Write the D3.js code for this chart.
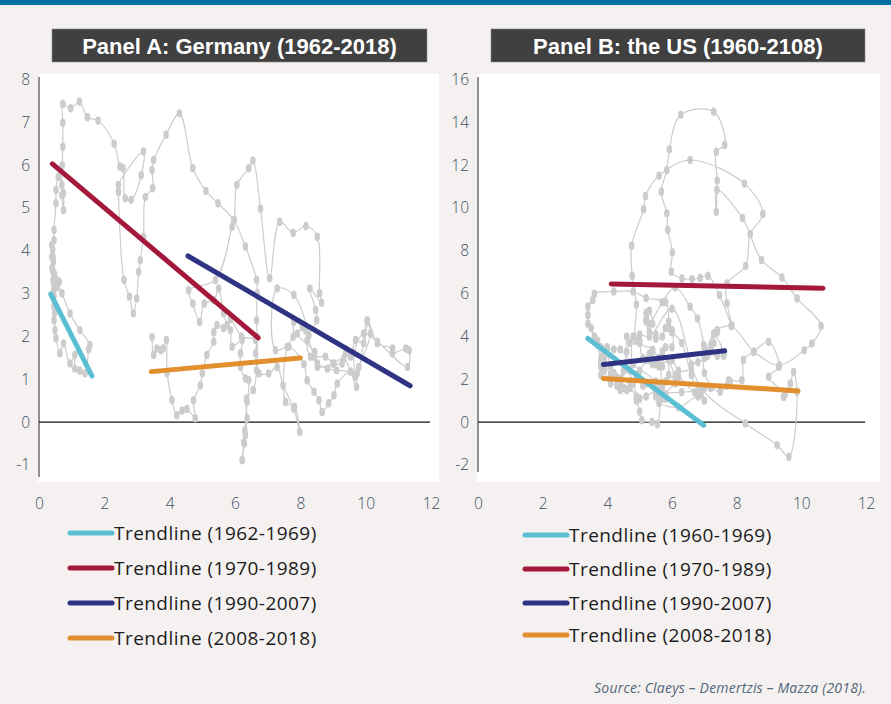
<!DOCTYPE html>
<html>
<head>
<meta charset="utf-8">
<script src="https://cdnjs.cloudflare.com/ajax/libs/d3/7.8.5/d3.min.js"></script>
<style>
  body { margin: 0; background: #f4f1f0; }
  svg { display: block; }
  .tick text { font-family: "Open Sans", Lato, sans-serif; font-weight: 300; font-size: 15.5px; fill: #3a5064; }
</style>
</head>
<body>
<svg id="chart" width="891" height="704"></svg>
<script>
// Germany: unemployment (x) vs inflation (y), connected in time order
const germany = [
  [0.42,3.55],[0.46,3.40],[0.54,3.32],[0.62,3.28],[0.55,3.15],[0.46,3.16],[0.46,2.95],[0.46,2.70],[0.46,2.38],[0.48,2.55],
  [0.44,2.90],[0.43,3.30],[0.40,3.60],[0.39,3.86],[0.39,4.14],[0.42,4.02],[0.46,4.25],[0.44,3.75],[0.48,3.45],[0.56,3.22],
  [0.70,3.01],[0.95,2.54],[1.25,2.15],[1.56,1.80],[1.52,1.70],[1.41,1.14],[1.25,1.20],[1.10,1.25],[1.10,1.57],[0.95,1.37],
  [0.75,1.84],[0.64,1.61],[0.52,1.96],[0.49,2.15],[0.47,2.70],[0.45,3.10],[0.43,3.50],[0.43,3.86],[0.46,4.49],[0.52,5.11],
  [0.52,5.42],[0.59,5.73],[0.70,5.54],[0.75,5.35],[0.75,4.95],[0.70,5.30],[0.71,6.00],[0.73,6.43],[0.73,6.99],[0.73,7.43],
  [0.97,7.33],[1.24,7.48],[1.48,7.12],[1.81,7.04],[2.30,6.50],[2.48,5.97],[2.57,5.93],[2.64,5.23],[2.82,5.19],[3.13,5.77],
  [3.20,6.32],[2.43,5.54],[2.43,5.38],[2.60,3.32],[2.77,2.93],[2.89,2.54],[2.99,2.89],[3.05,3.51],[3.10,3.78],[3.20,4.33],
  [3.26,5.26],[3.48,5.46],[3.46,5.89],[3.51,6.12],[3.89,6.71],[4.30,7.21],[4.71,5.93],[5.11,5.40],[5.48,5.11],[5.96,4.72],
  [6.32,4.10],[6.66,3.32],[6.68,3.01],[6.66,2.38],[6.68,1.99],[6.63,1.61],[6.66,1.21],[6.56,0.75],[6.35,0.55],[6.37,0.09],
  [6.32,-0.30],[6.29,-0.50],[6.22,-0.89],[6.27,-0.47],[6.30,-0.20],[6.37,0.48],[6.42,0.98],[6.32,1.02],[6.17,1.29],[6.17,1.61],
  [6.22,1.92],[5.91,1.76],[5.86,2.15],[5.76,2.27],[5.65,2.54],[5.50,3.12],[5.35,2.85],[5.06,2.77],[4.92,2.34],[4.71,2.77],
  [4.58,3.08],[5.40,3.32],[5.91,4.56],[5.98,4.72],[6.06,5.54],[6.42,5.93],[6.55,6.11],[6.78,4.99],[7.06,3.36],[7.37,4.68],
  [7.78,4.42],[8.17,4.58],[8.52,4.33],[8.59,3.01],[8.65,2.79],[8.29,3.12],[8.47,2.62],[8.50,2.38],[8.21,1.92],[8.31,1.53],
  [8.77,1.53],[9.03,1.37],[9.28,1.37],[9.39,1.61],[9.54,1.53],[9.69,1.92],[9.94,1.84],[10.05,2.34],[10.15,2.07],[9.79,1.29],
  [9.69,1.06],[9.54,1.18],[9.13,0.90],[9.03,0.63],[8.87,0.44],[8.67,0.24],[8.57,0.51],[8.42,0.71],[8.21,0.98],[8.11,1.35],
  [7.65,1.76],[7.24,1.68],[7.29,3.12],[7.80,2.97],[8.26,2.03],[8.16,2.15],[7.90,2.07],[8.44,1.64],[8.52,1.37],[8.83,1.25],
  [9.11,1.21],[9.54,1.18],[9.74,1.14],[10.05,2.38],[10.36,1.84],[10.82,1.72],[10.82,1.61],[11.23,1.72],[11.33,1.68],[11.28,1.29],
  [10.36,1.88],[9.94,2.07],[9.64,1.61],[9.72,0.82],[9.33,1.49],[9.00,1.37],[8.52,1.29],[8.42,1.53],[8.06,2.23],[7.80,2.34],
  [7.78,1.99],[7.60,1.76],[7.55,0.47],[7.82,0.36],[7.98,-0.23],[7.80,0.32],[7.47,0.86],[7.29,1.29],[7.03,1.14],[6.73,1.14],
  [6.63,1.92],[6.20,2.00],[5.86,2.40],[5.65,2.20],[5.45,2.27],[5.35,2.10],[5.35,1.88],[5.14,1.57],[5.00,1.14],[4.94,0.86],
  [4.73,0.51],[4.78,0.09],[4.53,0.31],[4.38,0.27],[4.22,0.16],[4.07,0.51],[3.92,1.14],[3.90,1.92],[3.80,1.72],[3.73,1.68],
  [3.61,1.72],[3.51,1.57],[3.46,1.99]
];

// US: unemployment (x) vs inflation (y), quarterly 1960-2018
const us = [
  [5.1,1.7],[5.2,1.8],[5.5,1.4],[6.3,1.4],[6.8,1.4],[7.0,1.0],[6.8,1.2],[6.2,0.7],[5.6,0.9],[5.5,1.2],
  [5.6,1.1],[5.5,1.3],[5.8,1.1],[5.7,1.1],[5.5,1.3],[5.6,1.6],[5.5,1.5],[5.2,1.2],[5.0,1.1],[5.0,1.1],
  [4.9,1.2],[4.7,1.6],[4.4,1.8],[4.1,1.8],[3.9,2.4],[3.8,2.8],[3.8,3.5],[3.7,3.6],[3.8,3.0],[3.8,2.6],
  [3.8,2.6],[3.9,3.0],[3.7,3.8],[3.6,4.0],[3.5,4.4],[3.4,4.6],[3.4,5.0],[3.4,5.4],[3.55,5.7],[3.6,6.0],
  [4.2,6.1],[4.8,6.1],[5.2,5.8],[5.8,5.6],[5.9,4.7],[5.9,4.4],[6.0,4.3],[6.0,3.5],[5.8,3.5],[5.7,3.3],
  [5.6,3.0],[5.4,3.4],[4.9,3.8],[4.9,5.5],[4.77,6.84],[4.75,8.24],[5.12,9.94],[5.18,10.56],[5.60,11.51],[6.56,12.24],
  [8.24,11.14],[8.81,9.72],[8.42,8.79],[8.28,7.30],[7.70,6.48],[7.70,5.55],[7.85,4.53],[7.47,5.93],[7.11,6.84],[6.87,6.73],
  [6.62,6.68],[6.31,6.71],[5.98,7.02],[6.01,7.93],[5.87,8.97],[5.84,9.75],[5.67,10.76],[5.84,11.78],[5.92,12.74],[6.27,14.35],
  [7.29,14.50],[7.63,12.94],[7.37,12.63],[7.40,11.28],[7.37,9.83],[7.39,10.84],[8.18,9.53],[8.77,7.57],[9.40,6.76],[9.87,5.78],
  [10.61,4.49],[10.33,3.68],[10.09,3.36],[9.32,2.66],[8.54,3.29],[7.83,4.49],[7.4,4.3],[7.4,4.2],[7.3,4.1],[7.2,3.6],
  [7.3,3.7],[7.2,3.3],[7.0,3.5],[7.0,2.3],[7.2,1.6],[7.0,1.6],[6.9,1.3],[6.6,2.2],[6.3,3.7],[6.0,4.2],
  [5.8,4.4],[5.7,4.0],[5.5,3.9],[5.5,4.1],[5.3,4.2],[5.2,4.8],[5.2,5.1],[5.2,4.7],[5.4,4.6],[5.3,5.2],
  [5.3,4.6],[5.7,5.6],[6.1,6.3],[6.56,5.39],[6.79,4.84],[6.98,3.6],[7.0,3.0],[7.29,4.14],[7.6,3.2],[7.6,3.1],
  [7.4,3.1],[7.1,3.2],[7.1,3.1],[6.8,2.8],[6.6,2.7],[6.6,2.5],[6.2,2.4],[6.0,2.9],[5.6,2.7],[5.5,2.8],
  [5.7,3.1],[5.7,2.6],[5.6,2.6],[5.5,2.7],[5.5,2.9],[5.3,2.9],[5.3,3.2],[5.2,2.9],[5.0,2.4],[4.9,2.2],
  [4.7,1.9],[4.6,1.5],[4.4,1.6],[4.5,1.6],[4.4,1.5],[4.3,1.7],[4.3,2.1],[4.2,2.3],[4.1,2.6],[4.0,3.2],
  [3.9,3.3],[4.0,3.5],[3.9,3.4],[4.2,3.4],[4.4,3.4],[4.8,2.7],[5.5,1.9],[5.7,1.3],[5.8,1.3],[5.7,1.6],
  [5.9,2.2],[5.9,2.9],[6.1,2.1],[6.1,2.2],[5.8,1.9],[5.7,1.8],[5.6,2.9],[5.4,2.7],[5.4,3.3],[5.3,3.0],
  [5.1,3.0],[5.0,3.8],[5.0,3.7],[4.7,3.7],[4.6,4.0],[4.6,3.3],[4.4,2.0],[4.5,2.4],[4.5,2.7],[4.7,2.4],
  [4.8,4.0],[5.0,4.1],[5.3,4.0],[6.0,5.3],[6.9,1.6],[8.27,-0.06],[9.25,-1.07],[9.61,-1.62],[9.87,1.42],[9.76,2.35],
  [9.66,1.81],[9.45,1.18],[9.5,1.3],[8.99,2.12],[9.3,2.58],[8.99,3.75],[8.52,3.29],[8.21,2.9],[8.16,1.96],[7.75,1.96],
  [7.8,1.9],[7.7,1.7],[7.49,1.42],[7.2,1.6],[6.87,1.5],[6.7,1.4],[6.2,2.1],[6.1,1.8],[5.7,1.2],[5.55,-0.1],
  [5.38,0.01],[5.07,0.09],[5.0,0.5],[4.9,1.1],[4.9,1.0],[4.9,1.1],[4.8,1.8],[4.6,2.5],[4.4,1.9],[4.3,2.0],
  [4.2,2.1],[4.1,2.2],[3.9,2.7],[3.8,2.6],[3.8,2.2]
];

// trendlines: [x, y] at start and end
const trendLabelsA = ["Trendline (1962-1969)", "Trendline (1970-1989)", "Trendline (1990-2007)", "Trendline (2008-2018)"];
const trendStartA = [[0.36,2.99],[0.41,6.03],[4.56,3.88],[3.44,1.18]];
const trendEndA = [[1.62,1.08],[6.71,1.97],[11.36,0.85],[8.00,1.50]];

const trendLabelsB = ["Trendline (1960-1969)", "Trendline (1970-1989)", "Trendline (1990-2007)", "Trendline (2008-2018)"];
const trendStartB = [[3.40,3.91],[4.12,6.45],[3.88,2.69],[3.88,2.04]];
const trendEndB = [[6.98,-0.14],[10.67,6.25],[7.63,3.33],[9.90,1.46]];

const trendColors = ["#5bbfd4", "#a4193b", "#2e3384", "#e2902f"];
const xTicks = [0, 2, 4, 6, 8, 10, 12];
const yTicksA = [-1, 0, 1, 2, 3, 4, 5, 6, 7, 8];
const yTicksB = [-2, 0, 2, 4, 6, 8, 10, 12, 14, 16];

const svg = d3.select("#chart");

svg.append("rect").attr("width", 891).attr("height", 704).attr("fill", "#f4f1f0");
svg.append("rect").attr("width", 891).attr("height", 5).attr("fill", "#0070a2");

function panel(opts) {
  const x = d3.scaleLinear().domain([0, 12]).range(opts.xRange);
  const y = d3.scaleLinear().domain(opts.yDomain).range([465, 79.5]);

  // white plot area
  svg.append("rect")
    .attr("x", opts.bg[0]).attr("y", 74)
    .attr("width", opts.bg[1] - opts.bg[0]).attr("height", 408)
    .attr("fill", "#ffffff");

  // title box
  svg.append("rect")
    .attr("x", opts.title[0]).attr("y", 29)
    .attr("width", opts.title[1] - opts.title[0]).attr("height", 33)
    .attr("fill", "#404040")
    .attr("stroke", "#8a8a8a").attr("stroke-width", 0.6);
  svg.append("text")
    .attr("x", (opts.title[0] + opts.title[1]) / 2).attr("y", 46)
    .attr("text-anchor", "middle").attr("dominant-baseline", "central")
    .attr("font-family", "'Liberation Sans', Arial, sans-serif")
    .attr("font-weight", "bold").attr("font-size", "22px")
    .attr("fill", "#ffffff")
    .text(opts.titleText);

  // axes (plain hyphen for negatives, as in the original)
  const yAxis = svg.append("g")
    .attr("transform", "translate(" + x(0) + ",0)")
    .call(d3.axisLeft(y).tickValues(opts.yTicks).tickFormat(d => String(d)).tickSize(0).tickPadding(9));
  yAxis.select(".domain").remove();

  svg.append("line")
    .attr("x1", x(0)).attr("x2", x(0))
    .attr("y1", 77).attr("y2", opts.yAxisEnd)
    .attr("stroke", "#6b6b6b").attr("stroke-width", 1.5);

  const xAxis = svg.append("g")
    .attr("transform", "translate(0,490)")
    .call(d3.axisBottom(x).tickValues(xTicks).tickFormat(d => String(d)).tickSize(0).tickPadding(8));
  xAxis.select(".domain").remove();

  svg.append("line")
    .attr("x1", x(0)).attr("x2", opts.zeroEnd)
    .attr("y1", y(0)).attr("y2", y(0))
    .attr("stroke", "#111").attr("stroke-width", 1.2);

  // connected scatter
  const line = d3.line()
    .x(d => x(d[0])).y(d => y(d[1]))
    .curve(d3.curveCatmullRom.alpha(0.5));
  svg.append("path")
    .datum(opts.points)
    .attr("d", line)
    .attr("fill", "none")
    .attr("stroke", "#cccccc")
    .attr("stroke-width", 1.2);
  svg.append("g").selectAll("ellipse")
    .data(opts.points)
    .enter()
    .append("ellipse")
    .attr("cx", d => x(d[0])).attr("cy", d => y(d[1]))
    .attr("rx", 2.8).attr("ry", 4.2)
    .attr("fill", "#cccccc");

  // trendlines
  opts.starts.forEach(function (s, i) {
    const e = opts.ends[i];
    svg.append("line")
      .attr("x1", x(s[0])).attr("y1", y(s[1]))
      .attr("x2", x(e[0])).attr("y2", y(e[1]))
      .attr("stroke", trendColors[i])
      .attr("stroke-width", 5)
      .attr("stroke-linecap", "round");
  });

  // legend
  opts.labels.forEach(function (lab, i) {
    const ly = opts.legendY[i];
    svg.append("line")
      .attr("x1", opts.legendX).attr("x2", opts.legendX + 42)
      .attr("y1", ly).attr("y2", ly)
      .attr("stroke", trendColors[i])
      .attr("stroke-width", 5)
      .attr("stroke-linecap", "round");
    svg.append("text")
      .attr("x", opts.legendX + 44).attr("y", ly)
      .attr("dominant-baseline", "central")
      .attr("font-family", "'Open Sans', Lato, sans-serif")
      .attr("font-size", "19px")
      .attr("letter-spacing", "0.45px")
      .attr("fill", "#1c1c1c")
      .text(lab);
  });
}

panel({
  xRange: [39, 431], yDomain: [-1, 8], yTicks: yTicksA,
  bg: [38, 439], title: [52, 427], titleText: "Panel A: Germany (1962-2018)",
  yAxisEnd: 477, zeroEnd: 430,
  points: germany, starts: trendStartA, ends: trendEndA,
  labels: trendLabelsA, legendX: 70, legendY: [533, 568, 603, 638]
});

panel({
  xRange: [478, 866], yDomain: [-2, 16], yTicks: yTicksB,
  bg: [477, 880], title: [491, 865], titleText: "Panel B: the US (1960-2108)",
  yAxisEnd: 472, zeroEnd: 865,
  points: us, starts: trendStartB, ends: trendEndB,
  labels: trendLabelsB, legendX: 525, legendY: [535, 569, 603, 635]
});

svg.append("text")
  .attr("x", 866).attr("y", 693)
  .attr("text-anchor", "end")
  .attr("font-family", "'Open Sans', Lato, sans-serif")
  .attr("font-style", "italic")
  .attr("font-size", "14px")
  .attr("letter-spacing", "0.2px")
  .attr("fill", "#52677a")
  .text("Source: Claeys \u2013 Demertzis \u2013 Mazza (2018).");
</script>
</body>
</html>
